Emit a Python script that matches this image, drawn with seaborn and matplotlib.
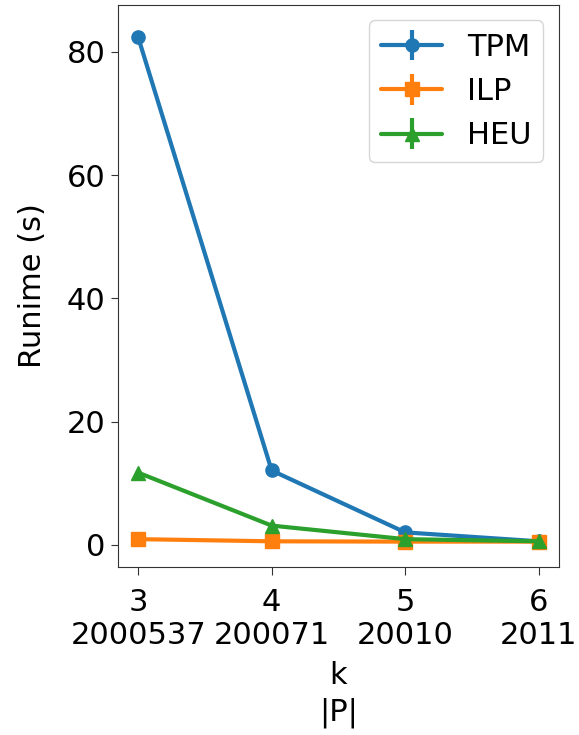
import matplotlib
matplotlib.use("Agg")
import matplotlib.pyplot as plt
import seaborn as sns
import numpy as np

k_values = [3, 4, 5, 6]
p_sizes = ["2000537", "200071", "20010", "2011"]
tpm = [82.4, 12.05, 2.0, 0.55]
ilp = [0.9, 0.55, 0.5, 0.5]
heu = [11.7, 3.1, 0.9, 0.55]
series_names = ["TPM", "ILP", "HEU"]
series_values = [tpm, ilp, heu]
markers = ["o", "s", "^"]

sns.set_style("ticks")
plt.rcParams['font.family'] = ['DejaVu Sans']
plt.rcParams['text.color'] = 'black'
plt.rcParams['axes.labelcolor'] = 'black'
plt.rcParams['xtick.color'] = '#333333'
plt.rcParams['ytick.color'] = '#333333'
plt.rcParams['xtick.labelcolor'] = 'black'
plt.rcParams['ytick.labelcolor'] = 'black'
palette = sns.color_palette("tab10", 3)

fig = plt.figure(figsize=(5.79, 7.35), dpi=100)
ax = fig.add_axes([0.204, 0.229, 0.761, 0.764])

for name, vals, m, c in zip(series_names, series_values, markers, palette):
    ax.errorbar(k_values, vals, yerr=np.zeros(len(vals)), label=name, color=c,
                marker=m, markersize=9.5, linewidth=3, elinewidth=3, capsize=0)

fs = 22
ax.set_xticks(k_values)
ax.set_xticklabels([f"{k}\n{p}" for k, p in zip(k_values, p_sizes)], fontsize=fs)
ax.set_xlim(2.85, 6.15)
ax.set_ylim(-3.57, 87.6)
ax.set_yticks([0, 20, 40, 60, 80])
ax.tick_params(axis='y', labelsize=fs, length=5, pad=4)
ax.tick_params(axis='x', length=6, pad=9)
ax.set_xlabel("k\n|P|", fontsize=fs, linespacing=1.3, labelpad=8)
ax.set_ylabel("Runime (s)", fontsize=fs, labelpad=14)
for s in ax.spines.values():
    s.set_color("#333333")
ax.legend(loc="upper right", fontsize=fs, handlelength=2.0)

fig.savefig("out.png", dpi=100)
